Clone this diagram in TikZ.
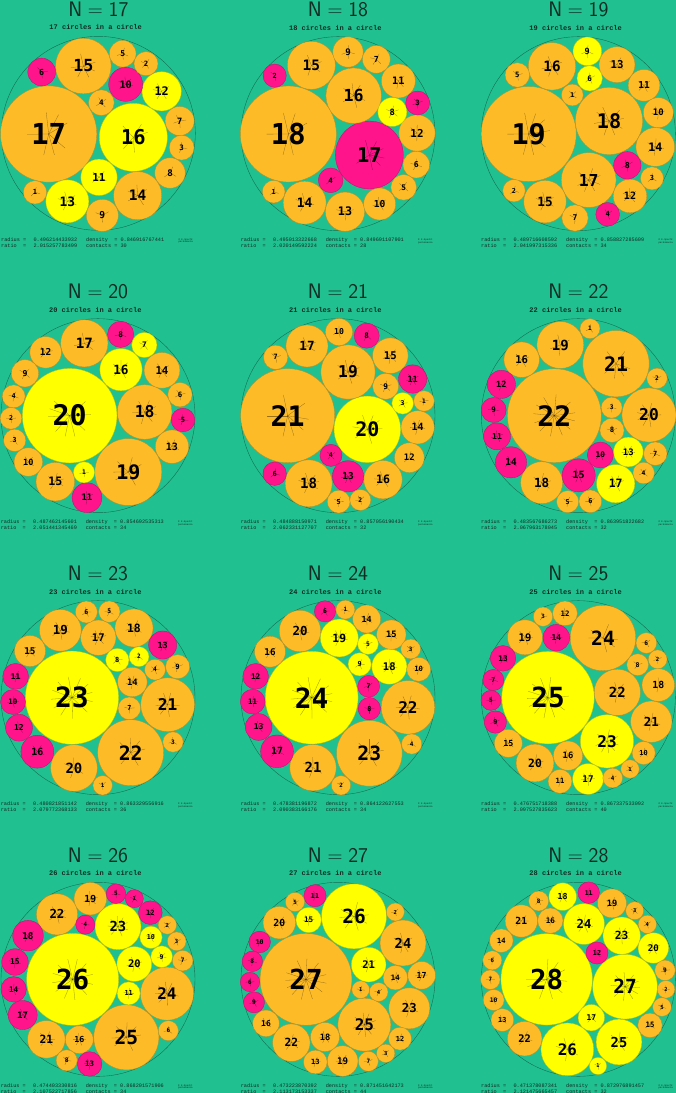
\documentclass[tikz,border=0pt]{standalone}
\usepackage{fontspec}
\usetikzlibrary{calc}
\newfontfamily\labelfont{DejaVu Sans Mono}
\newfontfamily\infofont{Liberation Mono}
\definecolor{bgteal}{RGB}{33,192,144}
\definecolor{or}{RGB}{253,187,40}
\definecolor{ye}{RGB}{255,255,0}
\definecolor{pk}{RGB}{255,20,140}
\definecolor{rimgreen}{RGB}{20,110,80}
\definecolor{inkdark}{RGB}{15,45,35}

\begin{document}
\begin{tikzpicture}[x=1pt, y=-1pt,
  disc/.style={circle, inner sep=0pt, fill=#1, draw=#1!75!black, line width=0.3pt},
  rim/.style={circle, inner sep=0pt, draw=rimgreen, line width=0.4pt},
  spoke/.style={draw=black, draw opacity=0.4, line width=0.3pt},
  heading/.style={font=\fontsize{21}{21}\selectfont\sffamily, text=inkdark},
  subheading/.style={font=\infofont\bfseries\fontsize{7}{7}\selectfont, text=inkdark},
  info/.style={font=\infofont\fontsize{5.2}{5.2}\selectfont, text=inkdark, anchor=west, inner sep=0pt}]
\useasboundingbox (0,0) rectangle (676,1093);
\fill[bgteal] (0,0) rectangle (676,1093);
\def\rimr{291} % container radius, zoomed px

% #1 N, #2/#3 centre, #4 radius, #5 density, #6 ratio, #7 contacts
\def\panelframe#1#2#3#4#5#6#7{
  \node[rim, minimum size=2*\rimr/3 pt] (rim#1) at (#2,#3) {};
  \node[heading] (title#1) at (#2,#3-372) {N${}={}$#1};
  \node[subheading] (sub#1) at (#2-8,#3-318) {#1 circles in a circle};
  \node[info] (rad#1) at (#2-292,#3+319) {radius =};
  \node[info] (radv#1) at (#2-195,#3+319) {#4};
  \node[info] (den#1) at (#2-37,#3+319) {density\ \ = #5};
  \node[info] (rat#1) at (#2-292,#3+337) {ratio\ \ =};
  \node[info] (ratv#1) at (#2-195,#3+337) {#6};
  \node[info] (con#1) at (#2-37,#3+337) {contacts = #7};
  \node[info, font=\infofont\fontsize{2.4}{2.6}\selectfont, align=left] (copy#1) at (#2+240,#3+323) {\textcopyright{} E.Specht\\ packomania};
}
% #1 N, #2 ratio, #3 discs label/x/y/colour
% (inside the 1/3 scope, anchors come back in zoomed units)
\def\packing#1#2#3{
  \foreach \k/\px/\py/\col in {#3} {
    \pgfmathsetmacro{\r}{\rimr/(3*#2*sqrt(#1+1-\k))}
    \pgfmathsetmacro{\fs}{0.6*\r}
    \node[disc=\col, minimum size=2*\r pt,
      font=\labelfont\bfseries\fontsize{\fs}{\fs}\selectfont] (n#1-\k) at (\px,\py) {\k};
  }
  % contact spokes
  \foreach \i in {1,...,#1} {
    \pgfmathsetmacro{\ri}{\rimr/(#2*sqrt(#1+1-\i))}
    \pgfpointdiff{\pgfpointanchor{rim#1}{center}}{\pgfpointanchor{n#1-\i}{center}}
    \pgfgetlastxy{\dx}{\dy}
    \pgfmathsetmacro{\gap}{\rimr-veclen(\dx,\dy)-\ri}
    \ifdim\gap pt<5pt
      \draw[spoke] (n#1-\i.center) -- ($(n#1-\i.center)!-0.45*\ri pt!(rim#1.center)$);
    \fi
    \foreach \j in {\i,...,#1} {
      \ifnum\j>\i
        \pgfmathsetmacro{\rj}{\rimr/(#2*sqrt(#1+1-\j))}
        \pgfpointdiff{\pgfpointanchor{n#1-\i}{center}}{\pgfpointanchor{n#1-\j}{center}}
        \pgfgetlastxy{\dx}{\dy}
        \pgfmathsetmacro{\gap}{veclen(\dx,\dy)-\ri-\rj}
        \ifdim\gap pt<5pt
          \draw[spoke] (n#1-\i.center) -- ($(n#1-\i.center)!0.45*\ri pt!(n#1-\j.center)$);
          \draw[spoke] (n#1-\j.center) -- ($(n#1-\j.center)!0.45*\rj pt!(n#1-\i.center)$);
        \fi
      \fi
    }
  }
}

\begin{scope}[shift={(0,0)}, scale=1/3]
\panelframe{17}{295}{400}{0.496214433932}{0.846916767441}{2.015257783499}{30}
\packing{17}{2.015257783499}{17/146/402/or, 16/400/412/ye, 15/250/198/or, 14/413/587/or, 13/202/604/ye, 12/485/274/ye, 11/297/532/ye, 10/377/253/pk, 9/307/646/or, 8/510/519/or, 7/539/363/or, 6/125/216/pk, 5/368/161/or, 4/304/308/or, 3/545/443/or, 2/438/191/or, 1/105/577/or}
\end{scope}

\begin{scope}[shift={(225,0)}, scale=1/3]
\panelframe{18}{339}{401}{0.495013322668}{0.849691107901}{2.020149592224}{28}
\packing{18}{2.020149592224}{18/190/402/or, 17/433/465/pk, 16/386/287/or, 15/259/196/or, 14/239/608/or, 13/360/635/or, 12/576/399/or, 11/520/243/or, 10/464/612/or, 9/369/156/or, 8/502/336/ye, 7/454/178/or, 6/574/494/or, 5/536/562/or, 4/317/541/pk, 3/578/309/pk, 2/149/227/pk, 1/146/575/or}
\end{scope}

\begin{scope}[shift={(450,0)}, scale=1/3]
\panelframe{19}{385}{401}{0.489716608592}{0.858827285609}{2.041997315336}{34}
\packing{19}{2.041997315336}{19/236/402/or, 18/477/363/or, 17/416/540/or, 16/306/199/or, 15/285/605/or, 14/616/441/or, 13/501/194/or, 12/540/588/or, 11/582/256/or, 10/625/338/or, 9/412/154/ye, 8/532/496/pk, 7/375/654/or, 6/419/235/ye, 5/202/225/or, 4/473/643/pk, 3/606/535/or, 2/192/572/or, 1/367/285/or}
\end{scope}

\begin{scope}[shift={(0,273)}, scale=1/3]
\panelframe{20}{294}{428}{0.487462145601}{0.854692535313}{2.051441345469}{34}
\packing{20}{2.051441345469}{20/209/428/ye, 19/385/597/or, 18/434/417/or, 17/253/211/or, 16/363/290/ye, 15/166/626/or, 14/486/292/or, 13/516/521/or, 12/137/238/or, 11/261/674/pk, 10/85/567/or, 9/75/301/or, 8/362/184/pk, 7/433/216/ye, 6/540/365/or, 5/549/441/pk, 4/41/370/or, 3/44/502/or, 2/33/436/or, 1/252/598/ye}
\end{scope}

\begin{scope}[shift={(225,273)}, scale=1/3]
\panelframe{21}{339}{428}{0.484888150971}{0.857056190434}{2.062331127707}{32}
\packing{21}{2.062331127707}{21/188/428/or, 20/427/469/ye, 19/369/297/or, 18/251/631/or, 17/246/219/or, 16/474/620/or, 15/496/248/or, 14/578/463/or, 13/369/610/pk, 12/553/554/or, 11/563/318/pk, 10/342/177/or, 9/482/340/or, 8/425/188/pk, 7/152/253/or, 6/149/602/pk, 5/341/686/or, 4/318/547/pk, 3/533/391/ye, 2/406/681/or, 1/597/384/or}
\end{scope}

\begin{scope}[shift={(450,273)}, scale=1/3]
\panelframe{22}{385}{428}{0.483567686273}{0.863951822682}{2.067963178045}{32}
\packing{22}{2.067963178045}{22/313/428/or, 21/498/272/or, 20/597/426/or, 19/331/216/or, 18/275/629/or, 17/497/632/ye, 16/215/260/or, 15/386/607/pk, 14/183/568/pk, 13/535/537/ye, 12/154/334/pk, 11/141/490/pk, 10/451/546/pk, 9/131/411/pk, 8/486/472/or, 7/616/542/or, 6/421/685/or, 5/353/686/or, 4/581/600/or, 3/485/404/or, 2/621/316/or, 1/420/167/or}
\end{scope}

\begin{scope}[shift={(0,546)}, scale=1/3]
\panelframe{23}{294}{455}{0.480821851142}{0.863329556916}{2.079772368133}{36}
\packing{23}{2.079772368133}{23/216/455/ye, 22/392/620/or, 21/503/476/or, 20/222/666/or, 19/181/253/or, 18/402/246/or, 17/295/275/or, 16/112/617/pk, 15/90/315/or, 14/397/408/or, 13/488/297/pk, 12/57/545/pk, 11/47/391/pk, 10/39/468/pk, 9/533/362/or, 8/352/342/ye, 7/388/487/or, 6/259/198/or, 5/328/197/or, 4/465/371/or, 3/519/588/or, 2/417/332/ye, 1/308/718/or}
\end{scope}

\begin{scope}[shift={(225,546)}, scale=1/3]
\panelframe{24}{339}{455}{0.478381196872}{0.864122627553}{2.090383166176}{34}
\packing{24}{2.090383166176}{24/260/455/ye, 23/433/622/or, 22/549/484/or, 21/264/665/or, 20/225/255/or, 19/343/276/ye, 18/493/362/ye, 17/156/616/pk, 16/135/317/or, 15/499/266/or, 14/425/219/or, 13/101/543/pk, 12/92/391/pk, 11/83/467/pk, 10/581/370/or, 9/404/355/ye, 8/433/488/pk, 7/431/421/pk, 6/300/196/pk, 5/429/294/ye, 4/560/594/or, 3/557/309/or, 2/348/718/or, 1/361/191/or}
\end{scope}

\begin{scope}[shift={(450,546)}, scale=1/3]
\panelframe{25}{385}{455}{0.476751718388}{0.867337533092}{2.097527835623}{40}
\packing{25}{2.097527835623}{25/294/455/ye, 24/459/276/or, 23/471/586/ye, 22/502/439/or, 21/604/527/or, 20/255/651/or, 19/225/274/or, 18/625/417/or, 17/414/699/ye, 16/354/629/or, 15/175/592/or, 14/319/275/pk, 13/159/337/pk, 12/345/202/or, 11/330/706/or, 10/581/621/or, 9/136/528/pk, 8/563/356/or, 7/130/402/pk, 6/589/291/or, 5/123/463/pk, 4/488/696/or, 3/279/212/or, 2/623/340/or, 1/540/669/or}
\end{scope}

\begin{scope}[shift={(0,820)}, scale=1/3]
\panelframe{26}{294}{478}{0.474403330816}{0.868201571906}{2.107522717856}{34}
\packing{26}{2.107522717856}{26/218/478/ye, 25/379/652/or, 24/501/521/or, 23/354/320/ye, 22/171/283/or, 21/139/658/or, 20/403/432/ye, 19/271/236/or, 18/84/347/pk, 17/68/585/pk, 16/238/659/or, 15/45/426/pk, 14/41/508/pk, 13/269/732/pk, 12/451/278/pk, 11/386/520/ye, 10/453/352/ye, 9/485/410/ye, 8/200/721/or, 7/548/422/or, 6/505/632/or, 5/348/221/pk, 4/256/314/pk, 3/530/364/or, 2/502/315/or, 1/403/236/pk}
\end{scope}

\begin{scope}[shift={(225,820)}, scale=1/3]
\panelframe{27}{339}{478}{0.473223870392}{0.871451642173}{2.113173153337}{44}
\packing{27}{2.113173153337}{27/243/478/or, 26/387/289/ye, 25/418/614/or, 24/534/369/or, 23/553/565/or, 22/199/668/or, 21/431/434/ye, 20/163/308/or, 19/353/723/or, 18/300/651/or, 17/590/466/or, 16/123/610/or, 15/251/300/ye, 14/511/473/or, 13/271/726/or, 12/525/656/or, 11/270/227/pk, 10/104/366/pk, 9/87/547/pk, 8/82/424/pk, 7/430/724/or, 6/75/486/pk, 5/210/246/or, 4/461/516/or, 3/482/700/or, 2/511/276/or, 1/407/509/or}
\end{scope}

\begin{scope}[shift={(450,820)}, scale=1/3]
\panelframe{28}{385}{478}{0.471378087341}{0.872976891457}{2.121475665457}{32}
\packing{28}{2.121475665457}{28/290/478/ye, 27/525/500/ye, 26/352/688/ye, 25/507/666/ye, 24/402/312/ye, 23/515/347/ye, 22/224/656/or, 21/214/303/or, 20/610/384/ye, 19/486/250/or, 18/338/230/ye, 17/424/593/ye, 16/301/302/or, 15/600/616/or, 14/154/362/or, 13/157/600/or, 12/441/399/pk, 11/416/218/pk, 10/131/540/or, 9/645/451/or, 8/266/243/or, 7/121/479/or, 6/127/421/or, 5/636/561/or, 4/592/313/or, 3/554/272/or, 2/648/508/or, 1/444/738/ye}
\end{scope}
\end{tikzpicture}
\end{document}
